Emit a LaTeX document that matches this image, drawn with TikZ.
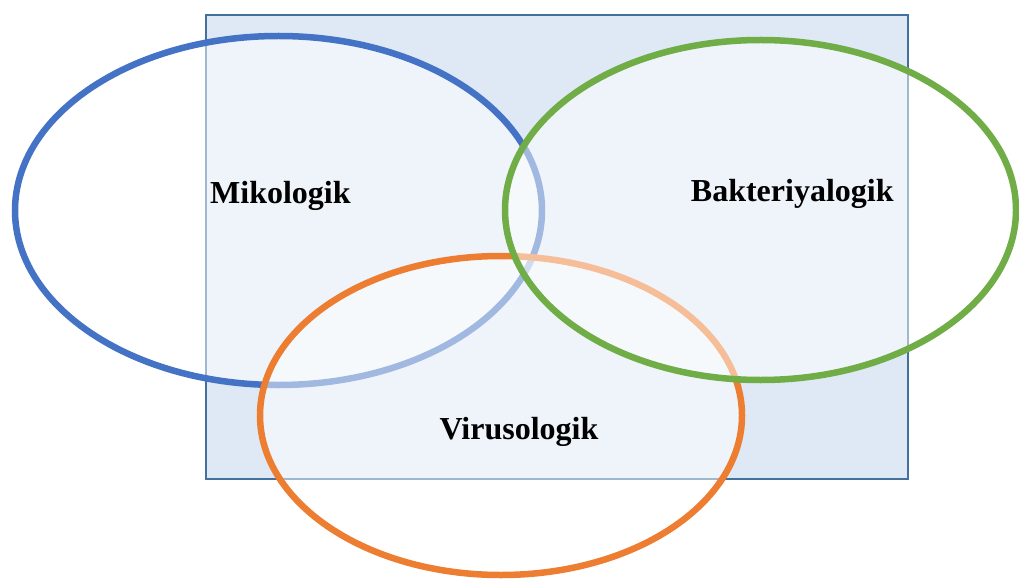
\documentclass[tikz,border=0pt]{standalone}
\usepackage{fontspec}
\setmainfont{Liberation Serif}
\usetikzlibrary{positioning}

\definecolor{boxfill}{HTML}{DEE9F5}
\definecolor{boxline}{HTML}{41719C}
\definecolor{mikoblue}{HTML}{4472C4}
\definecolor{virusorange}{HTML}{ED7D31}
\definecolor{bakgreen}{HTML}{70AD47}

\tikzset{
  kumpulan/.style={line width=6.5pt, fill=white, fill opacity=0.5},
  label/.style={anchor=base west, inner sep=0pt, font=\fontsize{32}{36}\selectfont\bfseries}
}

\begin{document}
\begin{tikzpicture}[x=1pt, y=1pt]
\useasboundingbox (0,0) rectangle (1019,582);
%%%%%%%%%%%%%%%%% semesta
\draw[boxline, line width=2.5pt, fill=boxfill] (206.2,103) rectangle (907.8,567.2);
%%%%%%%%%%%%%%%%% lingkaran
\draw[kumpulan, draw=mikoblue] (278.5,371.5) ellipse [x radius=263.5, y radius=174.5];
\draw[kumpulan, draw=virusorange] (501,166.5) ellipse [x radius=241, y radius=159.5];
\draw[kumpulan, draw=bakgreen] (760.5,372) ellipse [x radius=255.5, y radius=170];
%%%%%%%%%%%%%%%%% teks
\node[label] (miko) at (210,378) {Mikologik};
\node[label] (bakteri) at (690.7,381) {Bakteriyalogik};
\node[label] (virus) at (439.3,143) {Virusologik};
\end{tikzpicture}
\end{document}
